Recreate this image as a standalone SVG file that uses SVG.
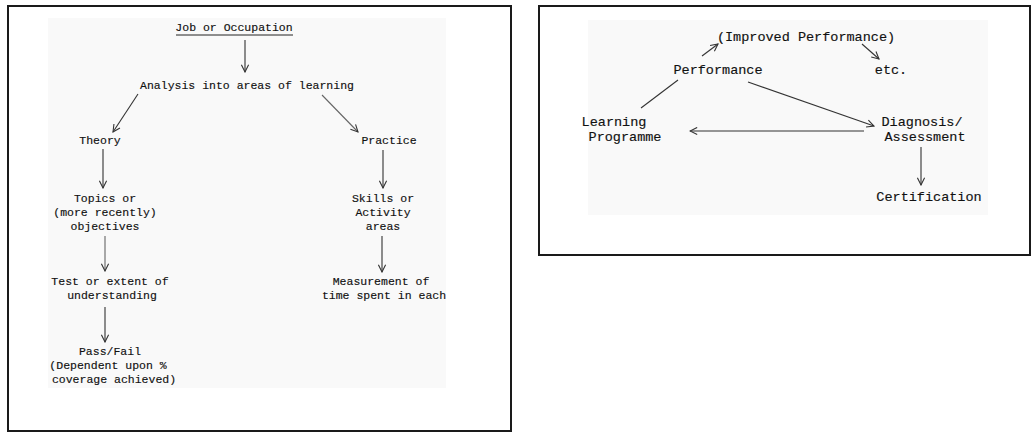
<svg xmlns="http://www.w3.org/2000/svg" width="1032" height="432" viewBox="0 0 1032 432">
  <style>
    .frame { fill: #ffffff; stroke: #1a1a1a; stroke-width: 2; }
    .haze { fill: #f9f9f9; }
    .t { font-family: "Liberation Mono", "DejaVu Sans Mono", monospace; fill: #111; stroke: #111; stroke-width: 0.15; text-anchor: middle; }
    .l { font-size: 11.5px; }
    .r { font-size: 13.5px; }
    .edge { fill: none; stroke: #333; stroke-width: 1.1; }
    .edge.light { stroke: #666; }
  </style>
  <defs>
    <marker id="vee" viewBox="0 0 10 10" refX="9" refY="5" markerWidth="9" markerHeight="9" markerUnits="userSpaceOnUse" orient="auto">
      <path d="M1,1 L9,5 L1,9" fill="none" stroke="#333" stroke-width="1.2"/>
    </marker>
  </defs>

  <rect width="1032" height="432" fill="#ffffff"/>

  <!-- left panel: job analysis tree -->
  <rect class="frame" x="8" y="6" width="503" height="425"/>
  <rect class="haze" x="48" y="18" width="398" height="370"/>

  <g id="job">
    <text class="t l" x="234" y="31">Job or Occupation</text>
    <line x1="176" y1="35" x2="293" y2="35" stroke="#222" stroke-width="1"/>
  </g>
  <g id="analysis"><text class="t l" x="247" y="89">Analysis into areas of learning</text></g>
  <g id="theory"><text class="t l" x="100" y="144">Theory</text></g>
  <g id="practice"><text class="t l" x="389" y="144">Practice</text></g>
  <g id="topics">
    <text class="t l" x="105" y="202">Topics or</text>
    <text class="t l" x="105" y="216">(more recently)</text>
    <text class="t l" x="105" y="230">objectives</text>
  </g>
  <g id="skills">
    <text class="t l" x="383" y="202">Skills or</text>
    <text class="t l" x="383" y="216">Activity</text>
    <text class="t l" x="383" y="230">areas</text>
  </g>
  <g id="test">
    <text class="t l" x="110" y="285">Test or extent of</text>
    <text class="t l" x="112" y="299">understanding</text>
  </g>
  <g id="measurement">
    <text class="t l" x="381" y="285">Measurement of</text>
    <text class="t l" x="384" y="299">time spent in each</text>
  </g>
  <g id="passfail">
    <text class="t l" x="110" y="355">Pass/Fail</text>
    <text class="t l" x="108" y="369">(Dependent upon %</text>
    <text class="t l" x="114" y="383">coverage achieved)</text>
  </g>

  <!-- right panel: assessment cycle -->
  <rect class="frame" x="539" y="6" width="491" height="249"/>
  <rect class="haze" x="588" y="20" width="400" height="195"/>

  <g id="improved"><text class="t r" x="806" y="41">(Improved Performance)</text></g>
  <g id="performance"><text class="t r" x="718" y="74">Performance</text></g>
  <g id="etc"><text class="t r" x="891" y="74">etc.</text></g>
  <g id="learning">
    <text class="t r" x="614" y="126">Learning</text>
    <text class="t r" x="625" y="141">Programme</text>
  </g>
  <g id="diagnosis">
    <text class="t r" x="922" y="126">Diagnosis/</text>
    <text class="t r" x="925" y="141">Assessment</text>
  </g>
  <g id="certification"><text class="t r" x="929" y="201">Certification</text></g>

  <g id="connectors">
    <!-- left panel -->
    <line class="edge" x1="245" y1="40" x2="245" y2="72" marker-end="url(#vee)"/>
    <line class="edge" x1="138" y1="94" x2="113" y2="132" marker-end="url(#vee)"/>
    <line class="edge light" x1="322" y1="95" x2="358" y2="132" marker-end="url(#vee)"/>
    <line class="edge" x1="103" y1="149" x2="103" y2="188" marker-end="url(#vee)"/>
    <line class="edge" x1="383" y1="150" x2="383" y2="188" marker-end="url(#vee)"/>
    <line class="edge light" x1="105" y1="236" x2="105" y2="271" marker-end="url(#vee)"/>
    <line class="edge" x1="382" y1="236" x2="382" y2="272" marker-end="url(#vee)"/>
    <line class="edge" x1="105" y1="307" x2="105" y2="342" marker-end="url(#vee)"/>
    <!-- right panel -->
    <line class="edge" x1="702" y1="56" x2="718" y2="44" marker-end="url(#vee)"/>
    <line class="edge" x1="862" y1="44" x2="879" y2="59" marker-end="url(#vee)"/>
    <line class="edge" x1="678" y1="80" x2="641" y2="108"/>
    <line class="edge" x1="748" y1="82" x2="874" y2="126" marker-end="url(#vee)"/>
    <line class="edge" x1="864" y1="131" x2="690" y2="131" marker-end="url(#vee)"/>
    <line class="edge" x1="921" y1="147" x2="921" y2="185" marker-end="url(#vee)"/>
  </g>
</svg>
